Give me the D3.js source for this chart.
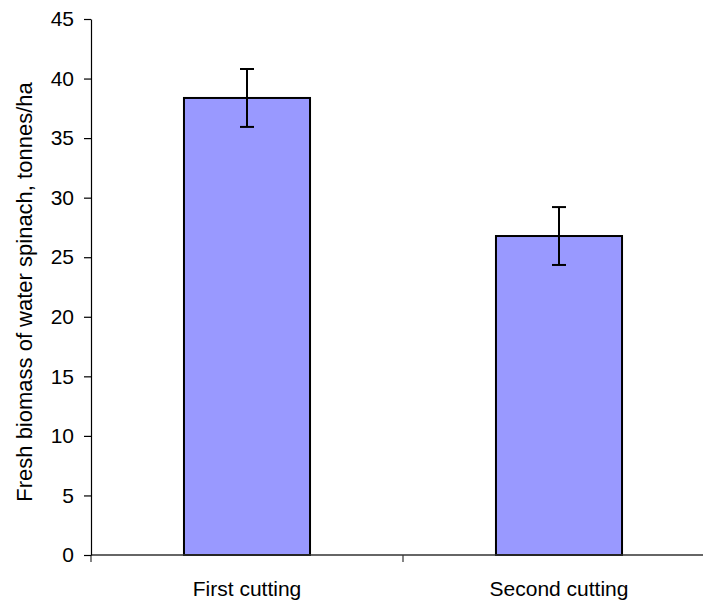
<!DOCTYPE html>
<html>
<head>
<meta charset="utf-8">
<script src="https://cdn.jsdelivr.net/npm/d3@7"></script>
<style>
  html, body { margin: 0; padding: 0; background: #fff; }
  svg { display: block; font-family: "Liberation Sans", Arial, sans-serif; }
</style>
</head>
<body>
<svg id="chart" width="703" height="602"></svg>
<script>
// Fresh biomass per cutting (tonnes/ha) with ± error
const categories = ["First cutting", "Second cutting"];
const means = [38.37, 26.78];
const errors = [2.43, 2.43];
const yTicks = [0, 5, 10, 15, 20, 25, 30, 35, 40, 45];
const yTitle = "Fresh biomass of water spinach, tonnes/ha";

const svg = d3.select("#chart");
const plotLeft = 91, plotRight = 715, plotTop = 19, plotBottom = 555;
const fontSize = 21;

const x = d3.scaleBand().domain(categories).range([plotLeft, plotRight]).padding(0);
const y = d3.scaleLinear().domain([0, 45]).range([plotBottom, plotTop]);
const barW = x.bandwidth() * 0.404;

// bars
svg.append("g").selectAll("rect")
  .data(categories)
  .join("rect")
  .attr("x", d => x(d) + (x.bandwidth() - barW) / 2)
  .attr("y", (d, i) => y(means[i]))
  .attr("width", barW)
  .attr("height", (d, i) => y(0) - y(means[i]))
  .attr("fill", "#9999ff")
  .attr("stroke", "#000")
  .attr("stroke-width", 2);

// error bars
const capHalf = 7;
const eb = svg.append("g").attr("stroke", "#000").attr("stroke-width", 2);
categories.forEach((c, i) => {
  const cx = x(c) + x.bandwidth() / 2;
  const hi = y(means[i] + errors[i]);
  const lo = y(means[i] - errors[i]);
  eb.append("line").attr("x1", cx).attr("x2", cx).attr("y1", hi).attr("y2", lo);
  eb.append("line").attr("x1", cx - capHalf).attr("x2", cx + capHalf).attr("y1", hi).attr("y2", hi);
  eb.append("line").attr("x1", cx - capHalf).attr("x2", cx + capHalf).attr("y1", lo).attr("y2", lo);
});

// x axis: baseline with ticks at category boundaries
const xg = svg.append("g");
xg.append("line")
  .attr("x1", plotLeft).attr("x2", plotRight)
  .attr("y1", y(0)).attr("y2", y(0))
  .attr("stroke", "#333").attr("stroke-width", 1.5);
const edges = categories.map(c => x(c)).concat([x(categories[categories.length - 1]) + x.bandwidth()]);
xg.selectAll("line.tick")
  .data(edges)
  .join("line")
  .attr("class", "tick")
  .attr("x1", d => d).attr("x2", d => d)
  .attr("y1", y(0)).attr("y2", y(0) + 7)
  .attr("stroke", "#333").attr("stroke-width", 1.2);
xg.selectAll("text")
  .data(categories)
  .join("text")
  .attr("x", d => x(d) + x.bandwidth() / 2)
  .attr("y", 596)
  .attr("text-anchor", "middle")
  .attr("font-size", fontSize)
  .attr("fill", "#000")
  .text(d => d);

// y axis
const yAxis = d3.axisLeft(y).tickValues(yTicks).tickSize(7).tickPadding(10).tickSizeOuter(0);
const yg = svg.append("g").attr("transform", `translate(${plotLeft},0)`).call(yAxis);
yg.select(".domain").attr("stroke", "#000").attr("stroke-width", 1.2);
yg.selectAll(".tick line").attr("stroke", "#000").attr("stroke-width", 1.2);
yg.selectAll(".tick text")
  .attr("font-size", fontSize)
  .attr("font-family", "'Liberation Sans', Arial, sans-serif")
  .attr("fill", "#000");

// y title
svg.append("text")
  .attr("transform", "translate(31.5,292) rotate(-90)")
  .attr("text-anchor", "middle")
  .attr("font-size", 22)
  .attr("fill", "#000")
  .text(yTitle);
</script>
</body>
</html>
